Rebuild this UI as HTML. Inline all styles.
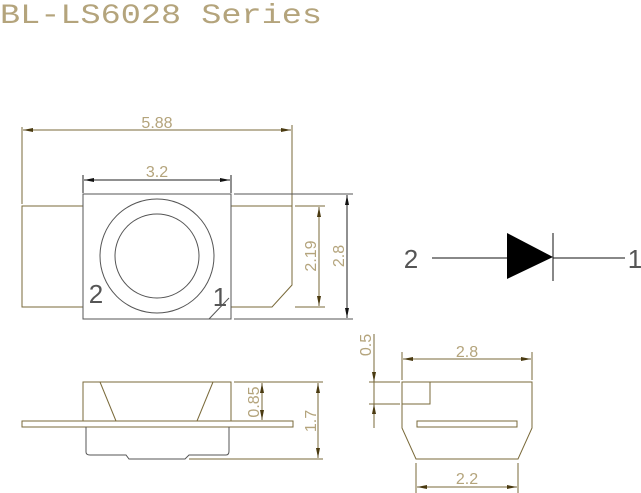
<!DOCTYPE html>
<html><head><style>html,body{margin:0;padding:0;background:#fff}svg{display:block}</style></head>
<body>
<svg width="641" height="493" viewBox="0 0 641 493" xmlns="http://www.w3.org/2000/svg" font-family="Liberation Sans, sans-serif">
<defs>
<marker id="a" viewBox="0 0 10 6" refX="10" refY="3" markerWidth="10" markerHeight="6" orient="auto-start-reverse" markerUnits="userSpaceOnUse"><path d="M0,1 L10,3 L0,5z" fill="#4a3a10"/></marker>
<marker id="k" viewBox="0 0 10 6" refX="10" refY="3" markerWidth="10" markerHeight="6" orient="auto-start-reverse" markerUnits="userSpaceOnUse"><path d="M0,1 L10,3 L0,5z" fill="#111"/></marker>
</defs>
<text x="0" y="23" font-family="Liberation Mono, monospace" font-size="28" fill="#b4a47c" textLength="322" lengthAdjust="spacingAndGlyphs">BL-LS6028 Series</text>

<g fill="none" stroke-width="1">
<g stroke="#7a6a3a">
<line x1="22" y1="127" x2="22" y2="204"/>
<line x1="292" y1="125" x2="292" y2="285"/>
<line x1="23" y1="130" x2="291" y2="130" marker-start="url(#a)" marker-end="url(#a)"/>
<path d="M83,206 H22 V307 H83"/>
<path d="M231,206 H292 V285 L272,307 H231"/>
<line x1="295" y1="206" x2="325" y2="206"/>
<line x1="295" y1="307" x2="325" y2="307"/>
<line x1="319" y1="207" x2="319" y2="306" marker-start="url(#a)" marker-end="url(#a)"/>
</g>
<g stroke="#555">
<rect x="83" y="194" width="148" height="125"/>
<circle cx="157" cy="256" r="57"/>
<circle cx="157" cy="256" r="42"/>
<line x1="209" y1="319" x2="229" y2="298"/>
<line x1="234" y1="194" x2="353" y2="194"/>
<line x1="234" y1="319" x2="353" y2="319"/>
</g>
<g stroke="#222">
<line x1="83" y1="175" x2="83" y2="193"/>
<line x1="231" y1="175" x2="231" y2="193"/>
<line x1="84" y1="180" x2="230" y2="180" marker-start="url(#k)" marker-end="url(#k)"/>
<line x1="347" y1="195" x2="347" y2="318" marker-start="url(#k)" marker-end="url(#k)"/>
</g>

<g stroke="#7a6a3a">
<rect x="83" y="382" width="148" height="39"/>
<line x1="100" y1="382" x2="116" y2="421"/>
<line x1="213" y1="382" x2="197" y2="421"/>
<rect x="22" y="421" width="271" height="6"/>
<line x1="234" y1="382" x2="323" y2="382"/>
<line x1="189" y1="459" x2="323" y2="459"/>
<line x1="262" y1="383" x2="262" y2="420" marker-start="url(#a)" marker-end="url(#a)"/>
<line x1="318" y1="383" x2="318" y2="458" marker-start="url(#a)" marker-end="url(#a)"/>
</g>
<path d="M86,427 V452 Q86,455 90,455 H126 L129,459 H185 L189,455 H226 Q229,455 229,451 V427" stroke="#555"/>

<g stroke="#7a6a3a">
<line x1="402" y1="352" x2="402" y2="380"/>
<line x1="532" y1="352" x2="532" y2="380"/>
<line x1="403" y1="359" x2="531" y2="359" marker-start="url(#a)" marker-end="url(#a)"/>
<path d="M402,382 H532 V428 L518,459 H416 L402,428 Z"/>
<path d="M402,382 H430 V404 H402"/>
<rect x="417" y="421" width="100" height="6"/>
<line x1="369" y1="382" x2="400" y2="382"/>
<line x1="369" y1="404" x2="400" y2="404"/>
<line x1="374" y1="334" x2="374" y2="428"/>
<line x1="374" y1="370" x2="374" y2="382" marker-end="url(#a)"/>
<line x1="374" y1="416" x2="374" y2="404" marker-end="url(#a)"/>
<line x1="416" y1="463" x2="416" y2="493"/>
<line x1="518" y1="463" x2="518" y2="493"/>
<line x1="417" y1="487" x2="517" y2="487" marker-start="url(#a)" marker-end="url(#a)"/>
</g>

<g stroke="#111">
<line x1="432" y1="258" x2="507" y2="258"/>
<line x1="553" y1="258" x2="625" y2="258"/>
<line x1="553" y1="233" x2="553" y2="281"/>
</g>
<path d="M507,233 L507,279 L553,257 Z" fill="#000"/>
</g>

<g font-size="16" fill="#b4a47c" text-anchor="middle">
<text x="157" y="128">5.88</text>
<text x="157" y="177">3.2</text>
<text transform="translate(316,256) rotate(-90)">2.19</text>
<text transform="translate(344,256) rotate(-90)">2.8</text>
<text transform="translate(259,402) rotate(-90)">0.85</text>
<text transform="translate(316,421) rotate(-90)">1.7</text>
<text transform="translate(371,345) rotate(-90)">0.5</text>
<text x="467" y="357">2.8</text>
<text x="467" y="484">2.2</text>
</g>
<g font-size="26" fill="#555" text-anchor="middle">
<text x="96" y="303">2</text>
<text x="220" y="306">1</text>
<text x="411" y="268">2</text>
<text x="635" y="268">1</text>
</g>
</svg>
</body></html>
